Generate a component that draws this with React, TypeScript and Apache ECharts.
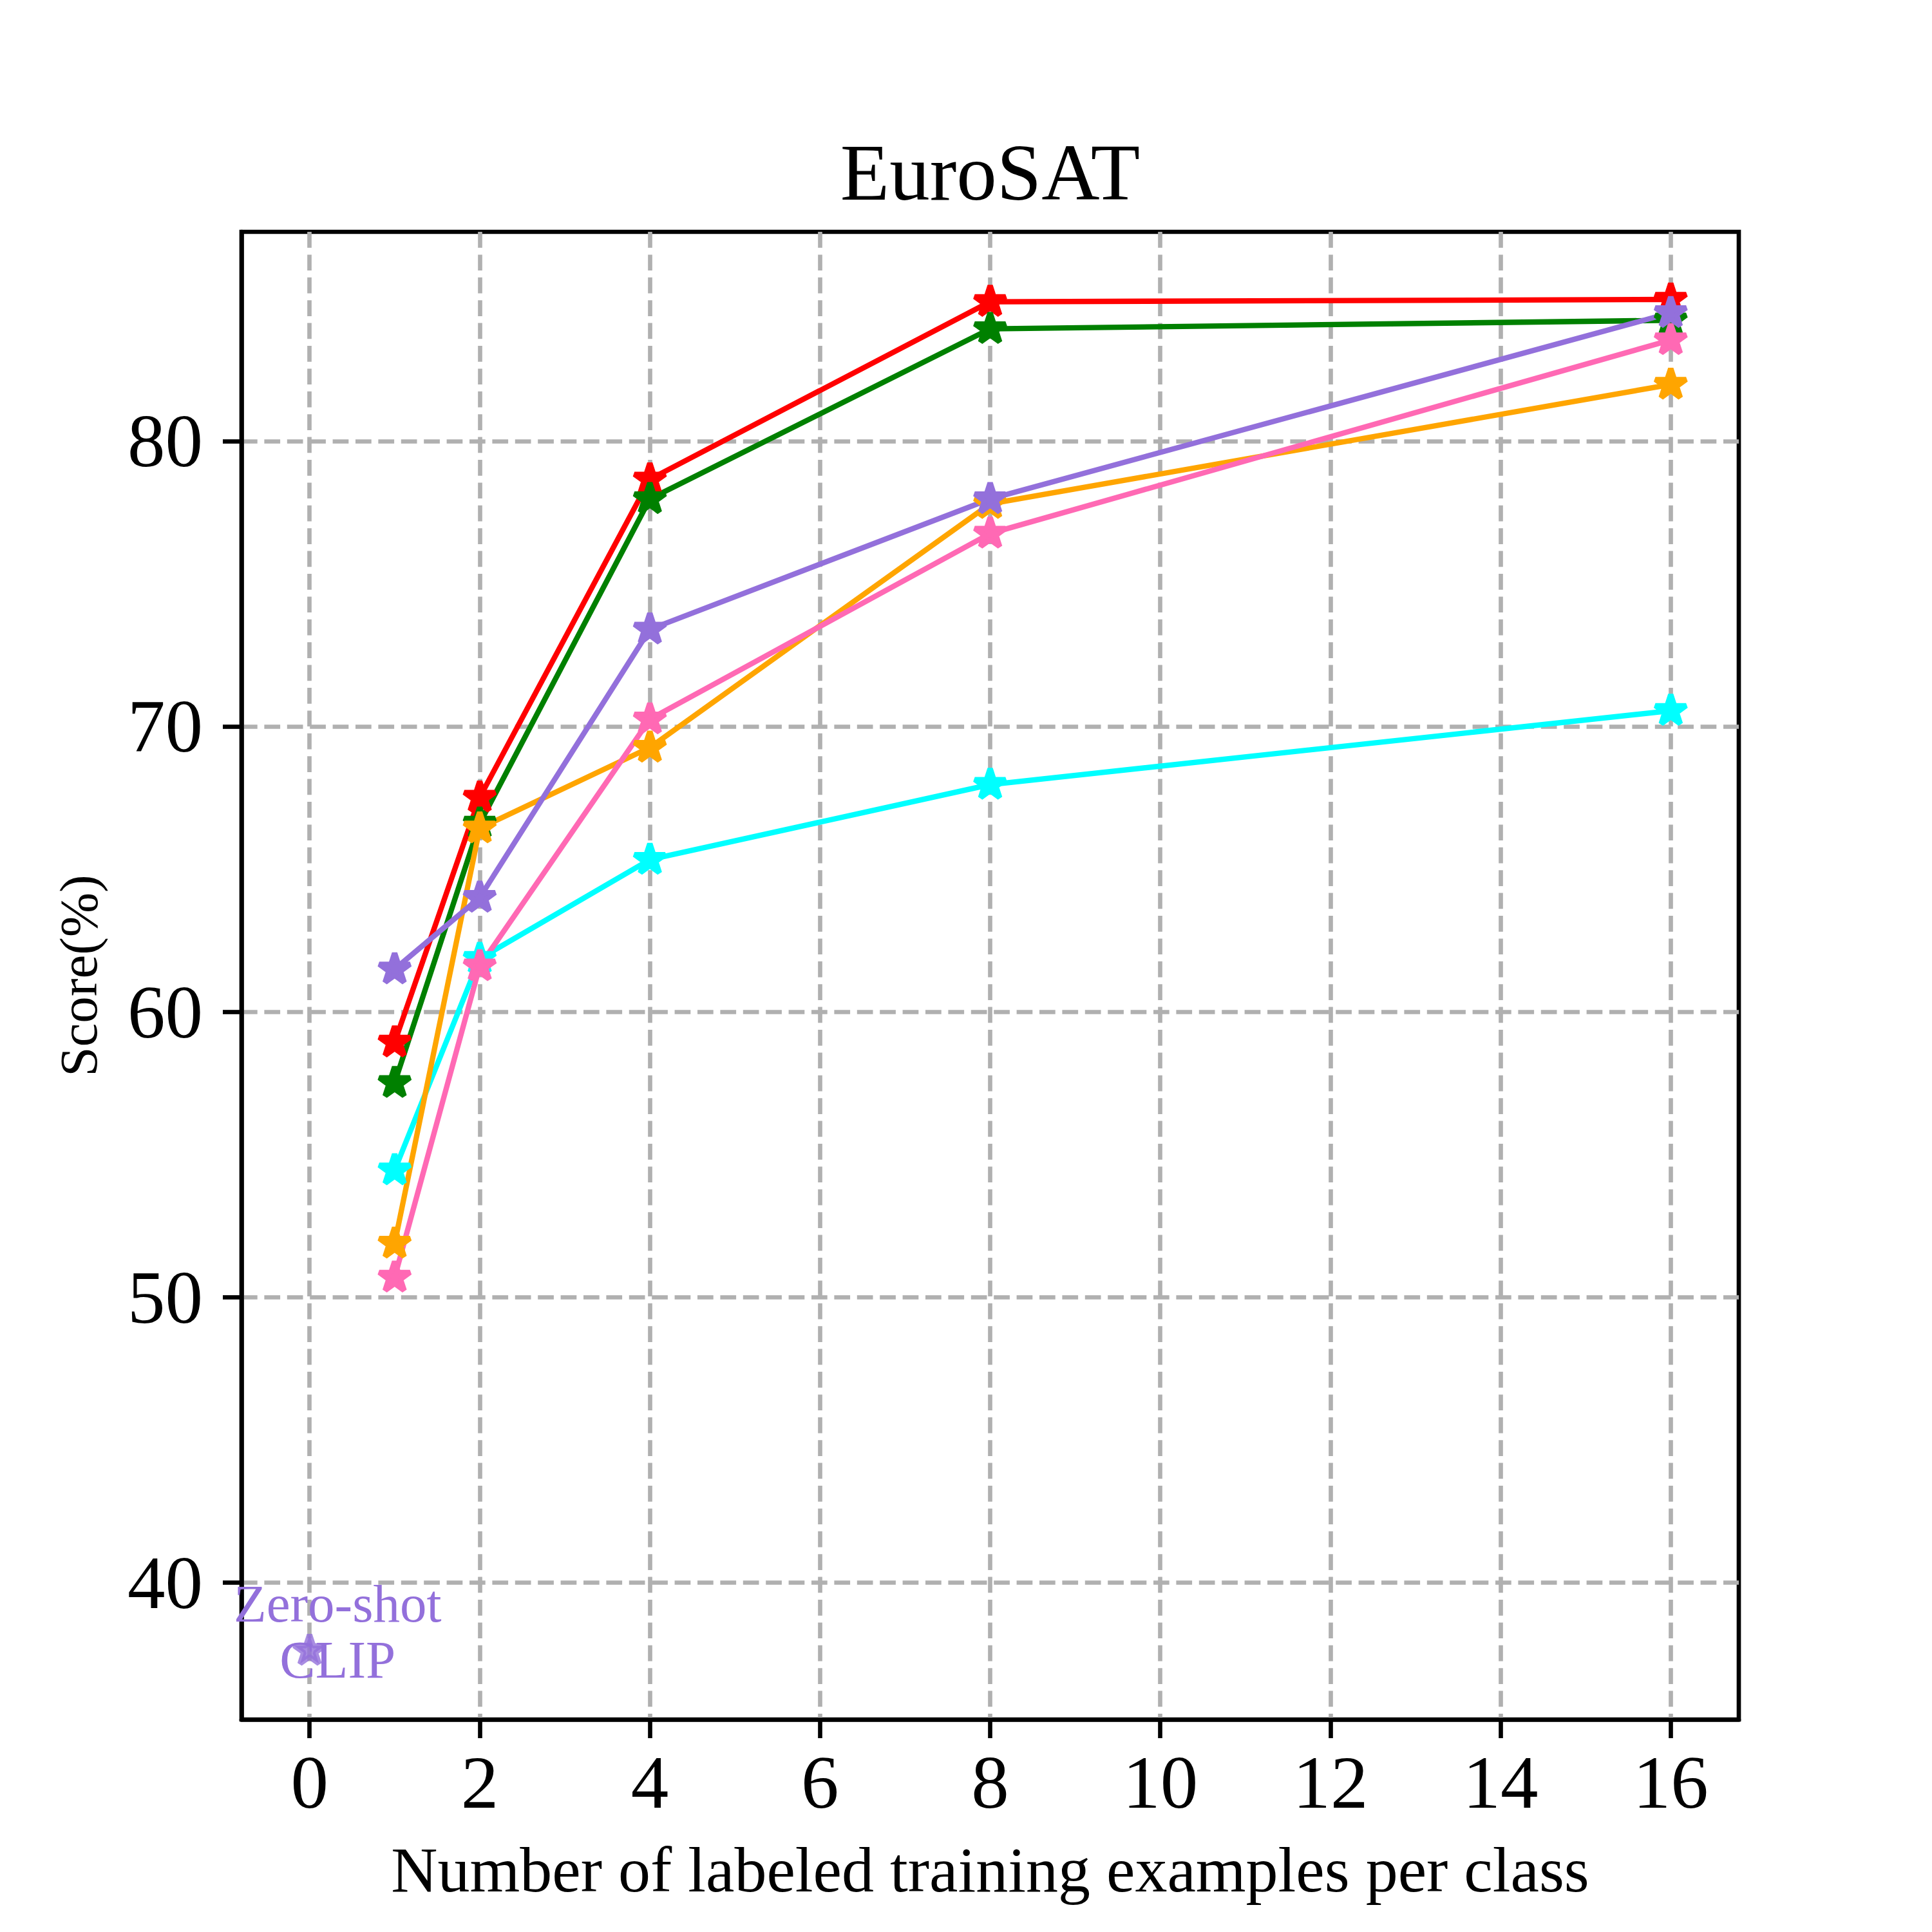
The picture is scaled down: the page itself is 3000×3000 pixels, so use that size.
import React, { useEffect, useRef } from "react";
import * as echarts from "echarts";

// ---- data ----
const shots = [1, 2, 4, 8, 16];
const redScores = [58.93, 67.51, 78.66, 84.88, 84.96];
const greenScores = [57.51, 66.6, 77.97, 83.93, 84.23];
const cyanScores = [54.45, 61.86, 65.33, 67.96, 70.55];
const orangeScores = [51.88, 66.43, 69.26, 77.8, 81.98];
const pinkScores = [50.69, 61.6, 70.25, 76.76, 83.54];
const purpleScores = [61.49, 64.0, 73.4, 77.97, 84.49];
const zeroShotX = 0;
const zeroShotScore = 37.61;
const xTicks = [0, 2, 4, 6, 8, 10, 12, 14, 16];
const yTicks = [40, 50, 60, 70, 80];

const FONT = "'Liberation Serif', 'Times New Roman', serif";
const STAR =
  "path://M0 -100 L22.45 -30.9 L95.1 -30.9 L36.33 11.8 L58.8 80.9 L0 38.2 L-58.8 80.9 L-36.33 11.8 L-95.1 -30.9 L-22.45 -30.9 Z";
const LW = 8.33;
const SPINE = 6.67;
const STAR_SIZE = [47.6, 45.2];
const STAR_OFFSET = [0, -2.4];

function starStyle(color: string) {
  return {
    color,
    borderColor: color,
    borderWidth: 8.3,
    borderJoin: "bevel",
  };
}

function lineSeries(name: string, color: string, values: number[]) {
  return {
    name,
    type: "line",
    data: shots.map((s, i) => [s, values[i]]),
    symbol: STAR,
    symbolSize: STAR_SIZE,
    symbolOffset: STAR_OFFSET,
    showAllSymbol: true,
    lineStyle: { color, width: LW },
    itemStyle: starStyle(color),
    z: 2,
  };
}

export default function App() {
  const ref = useRef<HTMLDivElement>(null);
  useEffect(() => {
    if (!ref.current) return;
    const chart = echarts.init(ref.current, undefined, { renderer: "svg" });
    const gridLeft = 375;
    const gridTop = 360;
    const gridW = 2325;
    const gridH = 2310;
    const splitStyle = {
      show: true,
      lineStyle: { color: "#b0b0b0", width: SPINE, type: [24.7, 10.7] },
    };
    chart.setOption({
      animation: false,
      backgroundColor: "#ffffff",
      grid: {
        left: gridLeft,
        top: gridTop,
        width: gridW,
        height: gridH,
        show: true,
        borderColor: "#000000",
        borderWidth: SPINE,
        backgroundColor: "transparent",
        containLabel: false,
        outerBoundsMode: "none",
      },
      xAxis: {
        type: "value",
        min: -0.8,
        max: 16.8,
        axisLine: { show: true, onZero: false, lineStyle: { color: "#000", width: SPINE } },
        axisTick: {
          show: true,
          inside: false,
          length: 29,
          customValues: xTicks,
          lineStyle: { color: "#000", width: SPINE },
        },
        axisLabel: {
          show: true,
          customValues: xTicks,
          margin: 39,
          fontFamily: FONT,
          fontSize: 117,
          lineHeight: 117,
          color: "#000",
        },
        splitLine: splitStyle,
      },
      yAxis: {
        type: "value",
        min: 35.2,
        max: 87.33,
        axisLine: { show: true, onZero: false, lineStyle: { color: "#000", width: SPINE } },
        axisTick: {
          show: true,
          inside: false,
          length: 29,
          customValues: yTicks,
          lineStyle: { color: "#000", width: SPINE },
        },
        axisLabel: {
          show: true,
          customValues: yTicks,
          margin: 60,
          fontFamily: FONT,
          fontSize: 117,
          lineHeight: 117,
          color: "#000",
        },
        splitLine: splitStyle,
      },
      graphic: [
        {
          type: "text",
          x: gridLeft + gridW / 2,
          y: 268,
          style: {
            text: "EuroSAT",
            fontFamily: FONT,
            fontSize: 125,
            fill: "#000",
            align: "center",
            verticalAlign: "middle",
          },
        },
        {
          type: "text",
          x: gridLeft + gridW / 2,
          y: 2903,
          style: {
            text: "Number of labeled training examples per class",
            fontFamily: FONT,
            fontSize: 100,
            fill: "#000",
            align: "center",
            verticalAlign: "middle",
          },
        },
        {
          type: "text",
          x: 122,
          y: gridTop + gridH / 2,
          rotation: Math.PI / 2,
          style: {
            text: "Score(%)",
            fontFamily: FONT,
            fontSize: 83,
            fill: "#000",
            align: "center",
            verticalAlign: "middle",
          },
        },
      ],
      series: [
        lineSeries("red", "#ff0000", redScores),
        lineSeries("green", "#008000", greenScores),
        lineSeries("cyan", "#00ffff", cyanScores),
        lineSeries("orange", "#ffa500", orangeScores),
        lineSeries("pink", "#ff69b4", pinkScores),
        lineSeries("purple", "#9370db", purpleScores),
        {
          name: "Zero-shot CLIP",
          type: "scatter",
          data: [[zeroShotX, zeroShotScore]],
          symbol: STAR,
          symbolSize: STAR_SIZE,
          symbolOffset: STAR_OFFSET,
          itemStyle: starStyle("#9370db"),
          z: 4,
          markPoint: {
            z: 1,
            symbol: "circle",
            symbolSize: 0,
            data: [
              {
                coord: [0.33, 38.28],
                label: {
                  show: true,
                  position: "inside",
                  formatter: "Zero-shot\nCLIP",
                  fontFamily: FONT,
                  fontSize: 83,
                  lineHeight: 87,
                  color: "#9370db",
                  align: "center",
                  verticalAlign: "middle",
                },
              },
            ],
          },
        },
      ],
    });
    return () => chart.dispose();
  }, []);
  return (
    <div
      ref={ref}
      style={{ position: "absolute", left: 0, top: 0, width: 3000, height: 3000, background: "#fff" }}
    />
  );
}
